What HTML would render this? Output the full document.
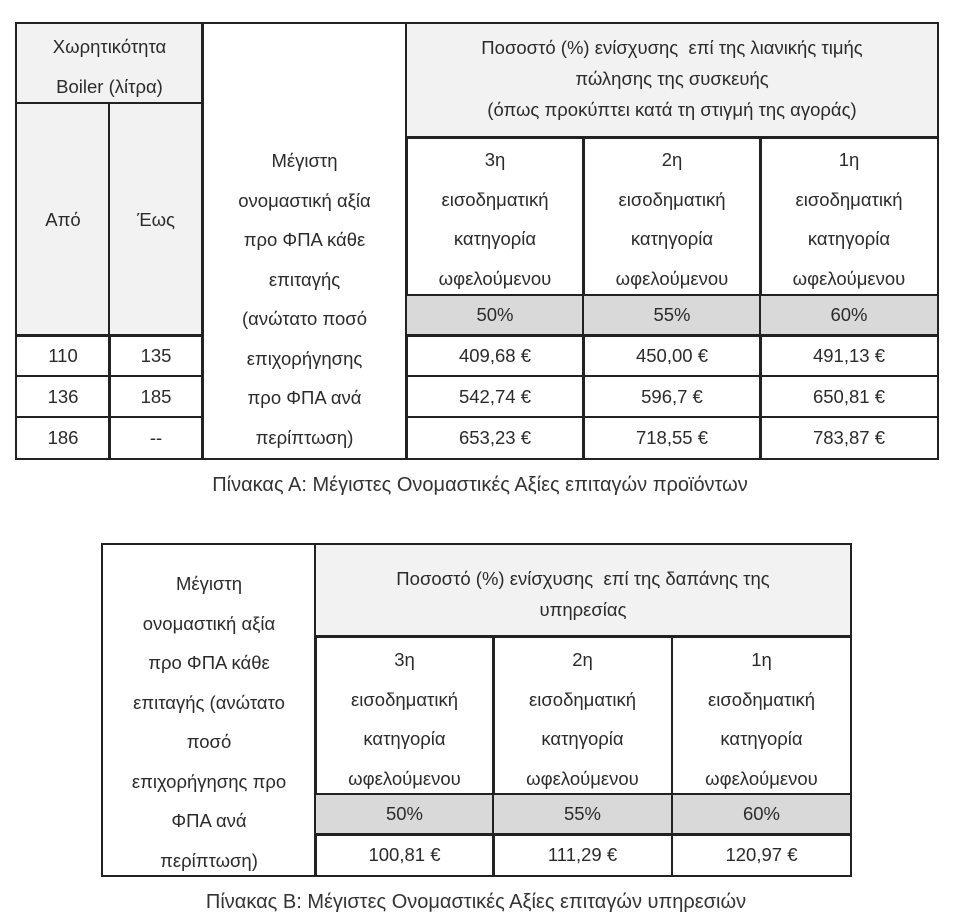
<!DOCTYPE html>
<html><head><meta charset="utf-8"><style>
body{margin:0;width:960px;height:922px;background:#fff;position:relative;font-family:"Liberation Sans","DejaVu Sans",sans-serif;color:#2b2b2b;overflow:hidden}
.c{position:absolute;box-sizing:border-box;border:2px solid #222;}
.t{position:absolute;left:0;right:0;text-align:center;font-size:18.5px;line-height:39.5px;white-space:nowrap}
.h{line-height:31px}
.g{background:#f2f2f2}.d{background:#d9d9d9}
.cap{position:absolute;left:0;width:960px;text-align:center;font-size:20px;color:#333}
</style></head><body>
<div class="c g" style="left:15px;top:22px;width:189px;height:82px"><div class="t" style="top:3px">Χωρητικότητα<br>Boiler (λίτρα)</div></div>
<div class="c g" style="left:15px;top:102px;width:96px;height:235px"><div class="t" style="top:96px">Από</div></div>
<div class="c g" style="left:108px;top:102px;width:96px;height:235px"><div class="t" style="top:96px">Έως</div></div>
<div class="c" style="left:201px;top:22px;width:207px;height:438px"><div class="t" style="top:117px">Μέγιστη<br>ονομαστική αξία<br>προ ΦΠΑ κάθε<br>επιταγής<br>(ανώτατο ποσό<br>επιχορήγησης<br>προ ΦΠΑ ανά<br>περίπτωση)</div></div>
<div class="c g" style="left:405px;top:22px;width:534px;height:117px"><div class="t h" style="top:8px">Ποσοστό (%) ενίσχυσης&nbsp; επί της λιανικής τιμής<br>πώλησης της συσκευής<br>(όπως προκύπτει κατά τη στιγμή της αγοράς)</div></div>
<div class="c" style="left:405px;top:136px;width:180px;height:161px"><div class="t" style="top:2px">3η<br>εισοδηματική<br>κατηγορία<br>ωφελούμενου</div></div>
<div class="c" style="left:582px;top:136px;width:180px;height:161px"><div class="t" style="top:2px">2η<br>εισοδηματική<br>κατηγορία<br>ωφελούμενου</div></div>
<div class="c" style="left:759px;top:136px;width:180px;height:161px"><div class="t" style="top:2px">1η<br>εισοδηματική<br>κατηγορία<br>ωφελούμενου</div></div>
<div class="c d" style="left:405px;top:294px;width:180px;height:43px"><div class="t" style="top:-1px">50%</div></div>
<div class="c d" style="left:582px;top:294px;width:180px;height:43px"><div class="t" style="top:-1px">55%</div></div>
<div class="c d" style="left:759px;top:294px;width:180px;height:43px"><div class="t" style="top:-1px">60%</div></div>
<div class="c" style="left:15px;top:334px;width:96px;height:43px"><div class="t" style="top:0">110</div></div>
<div class="c" style="left:108px;top:334px;width:96px;height:43px"><div class="t" style="top:0">135</div></div>
<div class="c" style="left:405px;top:334px;width:180px;height:43px"><div class="t" style="top:0">409,68 €</div></div>
<div class="c" style="left:582px;top:334px;width:180px;height:43px"><div class="t" style="top:0">450,00 €</div></div>
<div class="c" style="left:759px;top:334px;width:180px;height:43px"><div class="t" style="top:0">491,13 €</div></div>
<div class="c" style="left:15px;top:375px;width:96px;height:43px"><div class="t" style="top:0">136</div></div>
<div class="c" style="left:108px;top:375px;width:96px;height:43px"><div class="t" style="top:0">185</div></div>
<div class="c" style="left:405px;top:375px;width:180px;height:43px"><div class="t" style="top:0">542,74 €</div></div>
<div class="c" style="left:582px;top:375px;width:180px;height:43px"><div class="t" style="top:0">596,7 €</div></div>
<div class="c" style="left:759px;top:375px;width:180px;height:43px"><div class="t" style="top:0">650,81 €</div></div>
<div class="c" style="left:15px;top:416px;width:96px;height:44px"><div class="t" style="top:0">186</div></div>
<div class="c" style="left:108px;top:416px;width:96px;height:44px"><div class="t" style="top:0">--</div></div>
<div class="c" style="left:405px;top:416px;width:180px;height:44px"><div class="t" style="top:0">653,23 €</div></div>
<div class="c" style="left:582px;top:416px;width:180px;height:44px"><div class="t" style="top:0">718,55 €</div></div>
<div class="c" style="left:759px;top:416px;width:180px;height:44px"><div class="t" style="top:0">783,87 €</div></div>
<div class="cap" style="top:474px">Πίνακας Α: Μέγιστες Ονομαστικές Αξίες επιταγών προϊόντων</div>
<div class="c" style="left:101px;top:543px;width:216px;height:334px"><div class="t" style="top:19px">Μέγιστη<br>ονομαστική αξία<br>προ ΦΠΑ κάθε<br>επιταγής (ανώτατο<br>ποσό<br>επιχορήγησης προ<br>ΦΠΑ ανά<br>περίπτωση)</div></div>
<div class="c g" style="left:314px;top:543px;width:538px;height:95px"><div class="t h" style="top:18px">Ποσοστό (%) ενίσχυσης&nbsp; επί της δαπάνης της<br>υπηρεσίας</div></div>
<div class="c" style="left:314px;top:635px;width:181px;height:161px"><div class="t" style="top:3px">3η<br>εισοδηματική<br>κατηγορία<br>ωφελούμενου</div></div>
<div class="c" style="left:492px;top:635px;width:181px;height:161px"><div class="t" style="top:3px">2η<br>εισοδηματική<br>κατηγορία<br>ωφελούμενου</div></div>
<div class="c" style="left:671px;top:635px;width:181px;height:161px"><div class="t" style="top:3px">1η<br>εισοδηματική<br>κατηγορία<br>ωφελούμενου</div></div>
<div class="c d" style="left:314px;top:793px;width:181px;height:43px"><div class="t" style="top:-1px">50%</div></div>
<div class="c d" style="left:492px;top:793px;width:181px;height:43px"><div class="t" style="top:-1px">55%</div></div>
<div class="c d" style="left:671px;top:793px;width:181px;height:43px"><div class="t" style="top:-1px">60%</div></div>
<div class="c" style="left:314px;top:833px;width:181px;height:44px"><div class="t" style="top:0">100,81 €</div></div>
<div class="c" style="left:492px;top:833px;width:181px;height:44px"><div class="t" style="top:0">111,29 €</div></div>
<div class="c" style="left:671px;top:833px;width:181px;height:44px"><div class="t" style="top:0">120,97 €</div></div>
<div class="cap" style="top:891px;left:-4px">Πίνακας Β: Μέγιστες Ονομαστικές Αξίες επιταγών υπηρεσιών</div>
</body></html>
